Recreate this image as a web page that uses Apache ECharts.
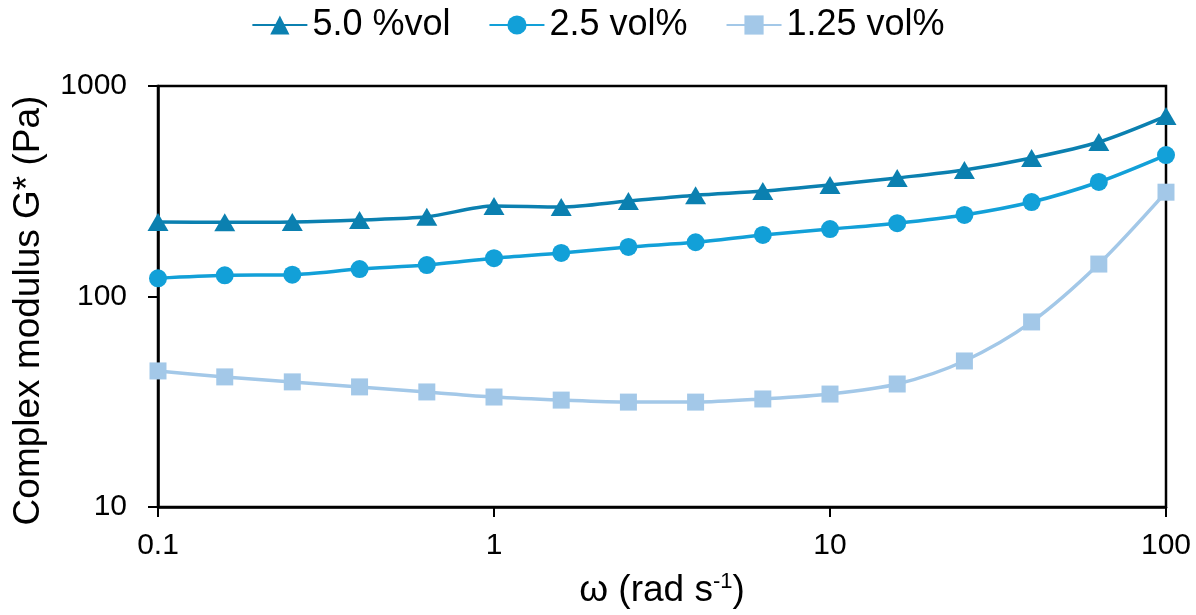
<!DOCTYPE html>
<html>
<head>
<meta charset="utf-8">
<script src="https://cdn.jsdelivr.net/npm/echarts@6/dist/echarts.min.js"></script>
<style>html,body{margin:0;padding:0;background:#fff}#c{width:1196px;height:615px}</style>
</head>
<body>
<div id="c"></div>
<script>
const omega = [0.1, 0.158, 0.251, 0.398, 0.631, 1, 1.585, 2.512, 3.981, 6.31, 10, 15.85, 25.12, 39.81, 63.1, 100];
const vol50 = [226, 225, 226, 231, 239, 269, 266, 284, 303, 317, 339, 366, 399, 455, 542, 720];
const vol25 = [122, 126, 127, 135, 141, 152, 161, 172, 181, 196, 209, 223, 244, 281, 350, 470];
const vol125 = [44.3, 41.5, 39.3, 37.2, 35.2, 33.3, 32.2, 31.5, 31.5, 32.6, 34.4, 38.4, 49.4, 75.7, 142.6, 313];
const names = ['5.0 %vol', '2.5 vol%', '1.25 vol%'];
const colors = ['#0b80b0', '#12a0d8', '#a3c8e8'];
const symbols = ['triangle', 'circle', 'rect'];
const sizes = [[21, 18], 18, 17];
const values = [vol50, vol25, vol125];

const font = 'Liberation Sans, Arial, sans-serif';
const chart = echarts.init(document.getElementById('c'));
chart.setOption({
  animation: false,
  legend: {
    top: 2, left: 'center',
    itemWidth: 55, itemHeight: 24, itemGap: 38,
    textStyle: { fontFamily: font, fontSize: 36, color: '#000' },
    data: names
  },
  grid: { left: 158, right: 30, top: 86, bottom: 108, show: true, borderColor: '#000', borderWidth: 2.5, containLabel: false },
  xAxis: {
    type: 'log', logBase: 10, min: 0.1, max: 100,
    name: 'ω (rad s{sup|-1})', nameLocation: 'middle', nameGap: 64,
    nameTextStyle: { fontFamily: font, fontSize: 37, color: '#000', rich: { sup: { fontFamily: font, fontSize: 22, color: '#000', verticalAlign: 'top', padding: [0, 0, 18, 0] } } },
    axisLine: { show: true, lineStyle: { color: '#000', width: 2.5 } },
    axisTick: { show: true, inside: false, length: 10, lineStyle: { color: '#000', width: 2 } },
    minorTick: { show: false },
    splitLine: { show: false },
    axisLabel: { fontFamily: font, fontSize: 30, color: '#000', margin: 24, formatter: v => String(+v.toPrecision(3)) }
  },
  yAxis: {
    type: 'log', logBase: 10, min: 10, max: 1000,
    name: 'Complex modulus G* (Pa)', nameLocation: 'middle', nameGap: 111,
    nameTextStyle: { fontFamily: font, fontSize: 37, color: '#000', padding: [0, 28, 0, 0] },
    axisLine: { show: true, lineStyle: { color: '#000', width: 2.5 } },
    axisTick: { show: true, inside: false, length: 10, lineStyle: { color: '#000', width: 2 } },
    minorTick: { show: false },
    splitLine: { show: false },
    axisLabel: { fontFamily: font, fontSize: 30, color: '#000', margin: 31, formatter: v => String(+v.toPrecision(3)) }
  },
  series: names.map((n, i) => ({
    name: n, type: 'line', smooth: 0.3,
    symbol: symbols[i], symbolSize: sizes[i],
    itemStyle: { color: colors[i] },
    lineStyle: { color: colors[i], width: 3.5 },
    data: omega.map((x, j) => [x, values[i][j]]),
    z: 3 - i
  }))
});
</script>
</body>
</html>
